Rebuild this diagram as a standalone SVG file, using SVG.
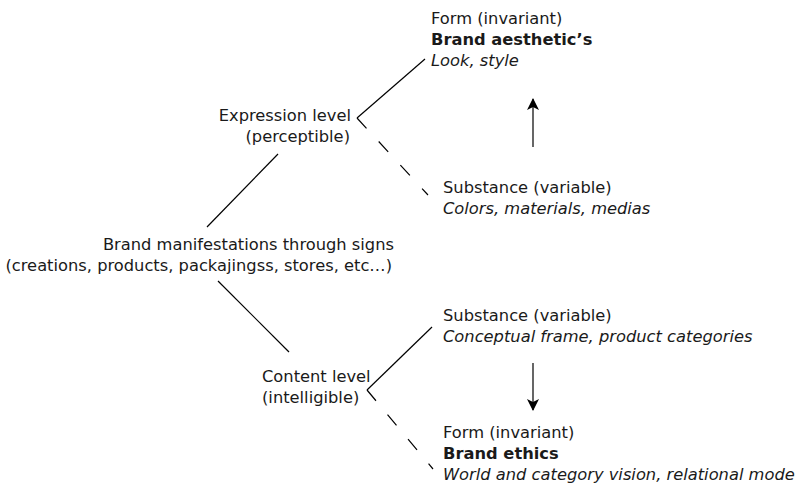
<svg xmlns="http://www.w3.org/2000/svg" width="801" height="489" viewBox="0 0 801 489">
  <defs>
    <style>
      text { font-family: "DejaVu Sans", "Liberation Sans", sans-serif; font-size: 16.3px; fill: #1a1a1a; }
      .b { font-weight: bold; }
      .i { font-style: italic; }
      .end { text-anchor: end; }
      .ln { stroke: #000; stroke-width: 1.2; fill: none; }
      .dash { stroke-dasharray: 14 18; }
    </style>
    <marker id="head" viewBox="0 0 12 14" refX="11" refY="7" markerWidth="12" markerHeight="14" markerUnits="userSpaceOnUse" orient="auto">
      <path d="M0,1 L12,7 L0,13 L3,7 Z" fill="#000"/>
    </marker>
  </defs>

  <!-- connectors -->
  <g id="connectors">
    <line class="ln" x1="207" y1="227" x2="278" y2="154"/>
    <line class="ln" x1="218" y1="281" x2="289" y2="352"/>
    <line class="ln" x1="425" y1="59" x2="357" y2="118"/>
    <line class="ln dash" x1="357" y1="118" x2="428" y2="195"/>
    <line class="ln" x1="367" y1="390" x2="432" y2="327"/>
    <line class="ln dash" x1="367" y1="390" x2="433" y2="469"/>
    <line class="ln" x1="533" y1="147" x2="533" y2="99" marker-end="url(#head)"/>
    <line class="ln" x1="533" y1="363" x2="533" y2="410" marker-end="url(#head)"/>
  </g>

  <g id="expression-form">
    <text x="431" y="23.5">Form (invariant)</text>
    <text x="431" y="44.5" class="b">Brand aesthetic’s</text>
    <text x="431" y="65.5" class="i">Look, style</text>
  </g>

  <g id="expression-level">
    <text x="351" y="120.5" class="end">Expression level</text>
    <text x="350" y="141.5" class="end">(perceptible)</text>
  </g>

  <g id="expression-substance">
    <text x="443" y="192.5">Substance (variable)</text>
    <text x="443" y="213.5" class="i">Colors, materials, medias</text>
  </g>

  <g id="manifestations">
    <text x="394" y="249.5" class="end">Brand manifestations through signs</text>
    <text x="392" y="270.5" class="end">(creations, products, packajingss, stores, etc…)</text>
  </g>

  <g id="content-substance">
    <text x="443" y="320.5">Substance (variable)</text>
    <text x="443" y="341.5" class="i">Conceptual frame, product categories</text>
  </g>

  <g id="content-level">
    <text x="262" y="382">Content level</text>
    <text x="262" y="403">(intelligible)</text>
  </g>

  <g id="content-form">
    <text x="443" y="438">Form (invariant)</text>
    <text x="443" y="459" class="b">Brand ethics</text>
    <text x="443" y="480" class="i">World and category vision, relational mode</text>
  </g>
</svg>
